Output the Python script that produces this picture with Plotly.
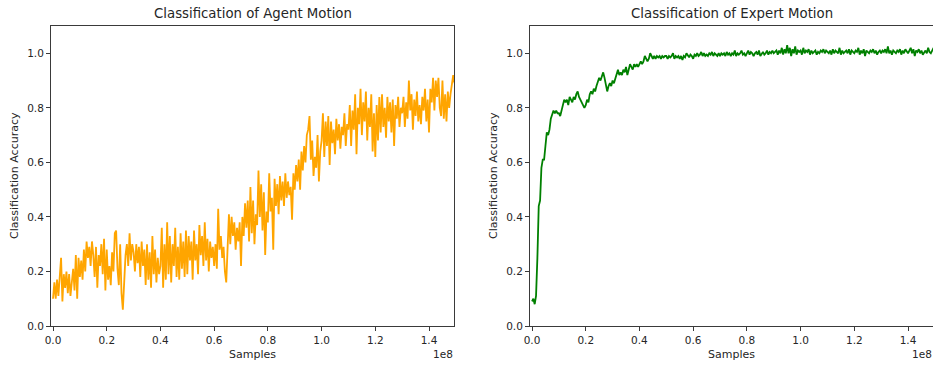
import numpy as np
import plotly.graph_objects as go

# ---------------- data ----------------
samples = np.arange(300) * 0.5e6  # sample counts (x positions of recorded points)

agent_accuracy = [
    0.10, 0.16, 0.10, 0.17, 0.11, 0.17, 0.25, 0.09, 0.19, 0.14, 0.20, 0.12, 0.19, 0.11, 0.16, 0.21, 0.13, 0.26, 0.10, 0.25,
    0.18, 0.24, 0.17, 0.28, 0.20, 0.31, 0.25, 0.29, 0.22, 0.31, 0.26, 0.18, 0.29, 0.14, 0.26, 0.22, 0.30, 0.19, 0.32, 0.13,
    0.28, 0.17, 0.22, 0.15, 0.27, 0.20, 0.34, 0.35, 0.21, 0.15, 0.30, 0.12, 0.06, 0.18, 0.26, 0.30, 0.22, 0.34, 0.24, 0.30,
    0.27, 0.20, 0.30, 0.23, 0.29, 0.18, 0.31, 0.22, 0.28, 0.15, 0.30, 0.17, 0.27, 0.14, 0.33, 0.19, 0.28, 0.16, 0.25, 0.19,
    0.22, 0.36, 0.14, 0.30, 0.17, 0.38, 0.19, 0.33, 0.16, 0.30, 0.22, 0.36, 0.18, 0.29, 0.17, 0.34, 0.21, 0.31, 0.18, 0.35,
    0.19, 0.33, 0.24, 0.31, 0.17, 0.35, 0.24, 0.30, 0.19, 0.37, 0.26, 0.33, 0.22, 0.38, 0.24, 0.32, 0.20, 0.31, 0.25, 0.29,
    0.22, 0.30, 0.21, 0.43, 0.28, 0.33, 0.25, 0.29, 0.20, 0.16, 0.32, 0.41, 0.30, 0.40, 0.33, 0.38, 0.28, 0.36, 0.31, 0.38,
    0.22, 0.40, 0.33, 0.45, 0.36, 0.46, 0.31, 0.51, 0.34, 0.46, 0.30, 0.41, 0.37, 0.57, 0.40, 0.52, 0.35, 0.49, 0.26, 0.42,
    0.38, 0.56, 0.42, 0.47, 0.28, 0.54, 0.44, 0.52, 0.41, 0.55, 0.46, 0.53, 0.44, 0.56, 0.47, 0.53, 0.48, 0.51, 0.39, 0.56,
    0.50, 0.59, 0.53, 0.61, 0.50, 0.64, 0.57, 0.66, 0.60, 0.70, 0.72, 0.77, 0.61, 0.68, 0.55, 0.62, 0.58, 0.70, 0.53, 0.64,
    0.68, 0.78, 0.62, 0.75, 0.66, 0.77, 0.59, 0.75, 0.67, 0.72, 0.63, 0.76, 0.68, 0.74, 0.65, 0.73, 0.70, 0.78, 0.66, 0.74,
    0.72, 0.81, 0.66, 0.79, 0.72, 0.85, 0.63, 0.80, 0.74, 0.87, 0.70, 0.82, 0.75, 0.86, 0.68, 0.80, 0.73, 0.85, 0.64, 0.78,
    0.62, 0.81, 0.68, 0.84, 0.71, 0.85, 0.73, 0.80, 0.69, 0.84, 0.75, 0.82, 0.71, 0.83, 0.66, 0.81, 0.76, 0.84, 0.73, 0.80,
    0.78, 0.84, 0.73, 0.82, 0.76, 0.90, 0.79, 0.85, 0.72, 0.83, 0.77, 0.86, 0.75, 0.81, 0.74, 0.84, 0.79, 0.87, 0.75, 0.83,
    0.71, 0.87, 0.82, 0.91, 0.79, 0.90, 0.84, 0.91, 0.80, 0.77, 0.90, 0.76, 0.85, 0.75, 0.86, 0.80, 0.85, 0.88, 0.92, 0.89,
]

expert_accuracy = [
    0.09, 0.10, 0.08, 0.11, 0.25, 0.44, 0.46, 0.58, 0.61, 0.61, 0.66, 0.71, 0.70, 0.72, 0.76, 0.78, 0.79, 0.78, 0.79, 0.78,
    0.78, 0.77, 0.79, 0.81, 0.83, 0.82, 0.83, 0.81, 0.84, 0.83, 0.82, 0.84, 0.83, 0.85, 0.86, 0.84, 0.83, 0.82, 0.81, 0.80,
    0.81, 0.83, 0.82, 0.85, 0.86, 0.85, 0.87, 0.86, 0.88, 0.90, 0.91, 0.90, 0.92, 0.93, 0.91, 0.89, 0.86, 0.88, 0.89, 0.88,
    0.90, 0.89, 0.91, 0.93, 0.94, 0.92, 0.93, 0.92, 0.94, 0.93, 0.95, 0.92, 0.94, 0.96, 0.95, 0.94, 0.96, 0.95, 0.96, 0.95,
    0.96, 0.97, 0.96, 0.97, 0.99, 0.98, 0.97, 0.98, 1.00, 0.99, 0.98, 0.99, 0.98, 0.99, 0.985, 0.99, 0.98, 0.99, 0.985, 0.99,
    0.99, 0.98, 0.99, 0.985, 0.99, 1.00, 0.98, 0.99, 0.985, 0.99, 0.98, 0.99, 0.975, 0.99, 0.985, 1.00, 0.99, 0.985, 0.995, 0.99,
    0.98, 0.995, 0.99, 1.00, 0.99, 0.995, 1.005, 0.99, 1.00, 0.99, 0.995, 0.99, 1.00, 0.995, 1.005, 0.99, 1.00, 0.995, 0.99, 1.00,
    0.99, 1.00, 0.995, 1.00, 0.99, 1.005, 0.995, 1.00, 0.99, 1.00, 0.995, 1.01, 0.99, 1.00, 0.995, 1.00, 1.01, 0.995, 1.00, 0.99,
    1.00, 1.01, 0.995, 1.005, 1.00, 0.99, 1.00, 1.005, 0.995, 1.01, 0.99, 1.00, 1.005, 0.995, 1.00, 1.01, 0.995, 1.005, 1.00, 1.01,
    1.00, 1.005, 1.01, 0.995, 1.01, 1.00, 1.02, 0.995, 1.015, 1.00, 1.03, 1.00, 1.02, 0.99, 1.015, 1.00, 1.025, 0.995, 1.01, 1.005,
    1.01, 0.995, 1.02, 1.00, 1.01, 1.005, 1.015, 0.995, 1.01, 1.00, 1.005, 1.01, 0.995, 1.005, 1.00, 1.01, 1.005, 1.015, 1.00, 1.01,
    1.005, 1.00, 1.01, 0.995, 1.015, 1.00, 1.01, 1.005, 1.00, 1.02, 0.995, 1.01, 1.00, 1.005, 1.01, 1.00, 1.015, 0.995, 1.01, 1.005,
    1.00, 1.01, 1.005, 1.02, 0.995, 1.01, 1.00, 1.015, 0.99, 1.01, 1.005, 1.00, 1.01, 1.005, 1.015, 1.00, 1.01, 0.995, 1.005, 1.01,
    1.00, 1.01, 1.005, 1.015, 1.00, 1.025, 1.00, 1.01, 0.995, 1.01, 1.005, 1.00, 1.01, 1.005, 1.015, 0.995, 1.01, 1.00, 1.015, 1.005,
    1.00, 1.01, 1.02, 1.00, 1.015, 0.99, 1.01, 1.005, 1.015, 1.00, 1.01, 0.995, 1.005, 1.01, 1.00, 1.02, 1.005, 1.00, 1.01, 1.02,
]

x_tick_values = [0.0, 0.2e8, 0.4e8, 0.6e8, 0.8e8, 1.0e8, 1.2e8, 1.4e8]
x_tick_labels = ["0.0", "0.2", "0.4", "0.6", "0.8", "1.0", "1.2", "1.4"]
y_tick_values = [0.0, 0.2, 0.4, 0.6, 0.8, 1.0]
y_tick_labels = ["0.0", "0.2", "0.4", "0.6", "0.8", "1.0"]

titles = ["Classification of Agent Motion", "Classification of Expert Motion"]

# ---------------- figure ----------------
W, H = 933, 365
FONT = "DejaVu Sans"
TXT = "#262626"
AX = "#3a3a3a"

fig = go.Figure()
fig.add_trace(go.Scatter(x=samples, y=agent_accuracy, mode="lines",
                         line=dict(color="orange", width=1.8), xaxis="x", yaxis="y",
                         showlegend=False))
fig.add_trace(go.Scatter(x=samples, y=expert_accuracy, mode="lines",
                         line=dict(color="green", width=1.8), xaxis="x2", yaxis="y2",
                         showlegend=False))

def px_x(p):
    return p / W

def px_y(p):
    return 1 - p / H

left_dom = [px_x(51), px_x(454)]
right_dom = [px_x(530), 1.0]
y_dom = [px_y(326), px_y(26)]

xcommon = dict(range=[-0.75e6, 1.493e8], tickvals=x_tick_values, ticktext=x_tick_labels,
               showgrid=False, zeroline=False, showline=True, linecolor=AX, linewidth=1,
               ticks="outside", ticklen=4, tickcolor=AX, tickwidth=1,
               tickfont=dict(family=FONT, size=10.5, color=TXT), automargin=False)
ycommon = dict(range=[0, 1.1], tickvals=y_tick_values, ticktext=y_tick_labels,
               showgrid=False, zeroline=False, showline=True, linecolor=AX, linewidth=1,
               ticks="outside", ticklen=4, tickcolor=AX, tickwidth=1,
               tickfont=dict(family=FONT, size=10.5, color=TXT), automargin=False)

fig.update_layout(
    width=W, height=H,
    margin=dict(l=0, r=0, t=0, b=0),
    paper_bgcolor="white", plot_bgcolor="white",
    xaxis=dict(domain=left_dom, anchor="y", mirror=True, **xcommon),
    yaxis=dict(domain=y_dom, anchor="x", mirror=True, **ycommon),
    xaxis2=dict(domain=right_dom, anchor="y2", mirror=True, **xcommon),
    yaxis2=dict(domain=y_dom, anchor="x2", mirror=False, **ycommon),
)

ann = []
centers = [(51 + 454) / 2, (530 + 933) / 2]
ylabel_x = [14, 493]
offset_x = [443, 922]
for i in range(2):
    ann.append(dict(text=titles[i], x=px_x(centers[i]), y=px_y(14), xref="paper", yref="paper",
                    showarrow=False, xanchor="center", yanchor="middle",
                    font=dict(family=FONT, size=13.3, color=TXT)))
    ann.append(dict(text="Samples", x=px_x(centers[i]), y=px_y(354), xref="paper", yref="paper",
                    showarrow=False, xanchor="center", yanchor="middle",
                    font=dict(family=FONT, size=11, color=TXT)))
    ann.append(dict(text="Classification Accuracy", x=px_x(ylabel_x[i]), y=px_y(176), xref="paper",
                    yref="paper", showarrow=False, xanchor="center", yanchor="middle", textangle=-90,
                    font=dict(family=FONT, size=11, color=TXT)))
    ann.append(dict(text="1e8", x=px_x(offset_x[i]), y=px_y(354), xref="paper", yref="paper",
                    showarrow=False, xanchor="center", yanchor="middle",
                    font=dict(family=FONT, size=10.5, color=TXT)))
fig.update_layout(annotations=ann)

fig.write_html("out.html", config={"displayModeBar": False},
               post_script="document.body.style.margin='0';document.body.style.padding='0';"
                           "document.body.style.overflow='hidden';")
